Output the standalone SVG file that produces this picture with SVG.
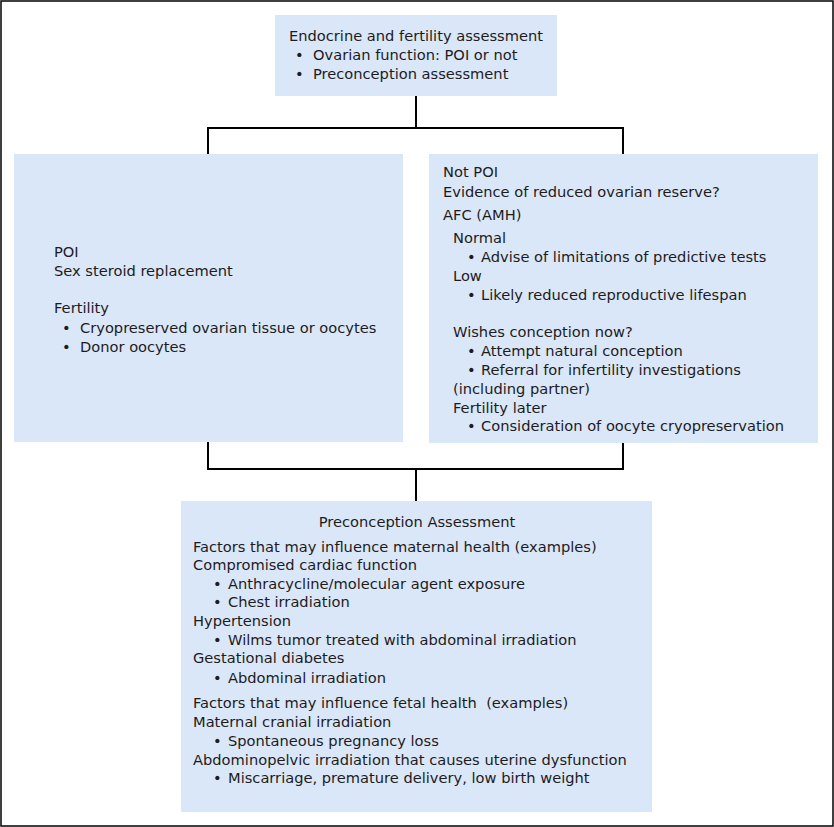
<svg xmlns="http://www.w3.org/2000/svg" width="834" height="827" viewBox="0 0 834 827">
<style>
.box{fill:#dae7f9;stroke:none}
.t{font-family:"DejaVu Sans","Liberation Sans",Arial,sans-serif;font-size:14.65px;fill:#1e1b1c}
.c{fill:none;stroke:#000;stroke-width:2}
</style>
<rect x="0" y="0" width="834" height="827" fill="#fff"/>
<rect x="1" y="1" width="832" height="825" fill="none" stroke="#000" stroke-width="1.5"/>
<g id="connectors">
<path class="c" d="M416 96V128M208 154V128H623V154"/>
<path class="c" d="M208 442V469H623V442M416 469V501"/>
</g>
<g id="top">
<rect class="box" x="275" y="15" width="282" height="81"/>
<text class="t" x="289" y="41">Endocrine and fertility assessment</text>
<text class="t" x="295" y="60">•</text><text class="t" x="313" y="60">Ovarian function: POI or not</text>
<text class="t" x="295" y="79">•</text><text class="t" x="313" y="79">Preconception assessment</text>
</g>
<g id="poi">
<rect class="box" x="14" y="154" width="389" height="288"/>
<text class="t" x="54" y="257">POI</text>
<text class="t" x="54" y="276">Sex steroid replacement</text>
<text class="t" x="54" y="313">Fertility</text>
<text class="t" x="62" y="333">•</text><text class="t" x="80" y="333">Cryopreserved ovarian tissue or oocytes</text>
<text class="t" x="62" y="352">•</text><text class="t" x="80" y="352">Donor oocytes</text>
</g>
<g id="notpoi">
<rect class="box" x="429" y="154" width="389" height="289"/>
<text class="t" x="443" y="177">Not POI</text>
<text class="t" x="443" y="197">Evidence of reduced ovarian reserve?</text>
<text class="t" x="443" y="220">AFC (AMH)</text>
<text class="t" x="453" y="243">Normal</text>
<text class="t" x="467" y="262">•</text><text class="t" x="481" y="262">Advise of limitations of predictive tests</text>
<text class="t" x="453" y="281">Low</text>
<text class="t" x="467" y="300">•</text><text class="t" x="481" y="300">Likely reduced reproductive lifespan</text>
<text class="t" x="453" y="337">Wishes conception now?</text>
<text class="t" x="467" y="356">•</text><text class="t" x="481" y="356">Attempt natural conception</text>
<text class="t" x="467" y="375">•</text><text class="t" x="481" y="375">Referral for infertility investigations</text>
<text class="t" x="453" y="394">(including partner)</text>
<text class="t" x="453" y="413">Fertility later</text>
<text class="t" x="467" y="431">•</text><text class="t" x="481" y="431">Consideration of oocyte cryopreservation</text>
</g>
<g id="preconception">
<rect class="box" x="181" y="501" width="471" height="311"/>
<text class="t" x="417" y="527" text-anchor="middle">Preconception Assessment</text>
<text class="t" x="193" y="552">Factors that may influence maternal health (examples)</text>
<text class="t" x="193" y="570">Compromised cardiac function</text>
<text class="t" x="213" y="589">•</text><text class="t" x="228" y="589">Anthracycline/molecular agent exposure</text>
<text class="t" x="213" y="607">•</text><text class="t" x="228" y="607">Chest irradiation</text>
<text class="t" x="193" y="626">Hypertension</text>
<text class="t" x="213" y="645">•</text><text class="t" x="228" y="645">Wilms tumor treated with abdominal irradiation</text>
<text class="t" x="193" y="663">Gestational diabetes</text>
<text class="t" x="213" y="683">•</text><text class="t" x="228" y="683">Abdominal irradiation</text>
<text class="t" x="193" y="708" style="white-space:pre">Factors that may influence fetal health  (examples)</text>
<text class="t" x="193" y="727">Maternal cranial irradiation</text>
<text class="t" x="213" y="746">•</text><text class="t" x="228" y="746">Spontaneous pregnancy loss</text>
<text class="t" x="193" y="765">Abdominopelvic irradiation that causes uterine dysfunction</text>
<text class="t" x="213" y="783">•</text><text class="t" x="228" y="783">Miscarriage, premature delivery, low birth weight</text>
</g>
</svg>
